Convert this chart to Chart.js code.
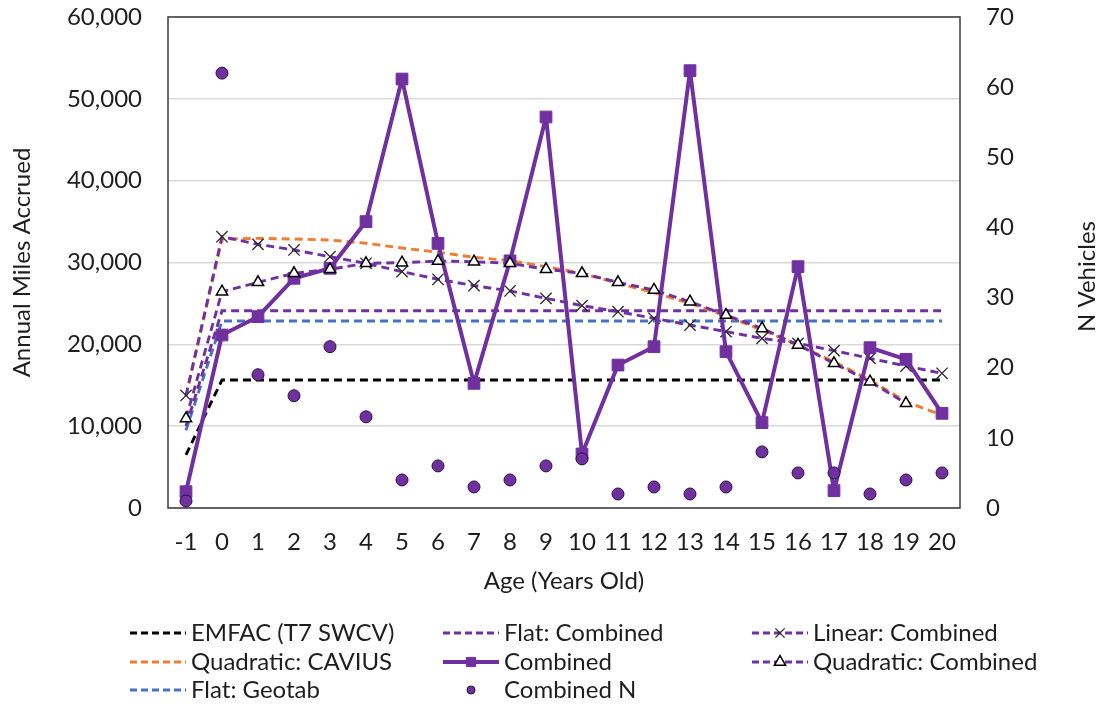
<!DOCTYPE html>
<html>
<head>
<meta charset="utf-8">
<title>Annual Miles Accrued by Age</title>
<script src="https://cdn.jsdelivr.net/npm/chart.js@4.4.1/dist/chart.umd.min.js"></script>
<style>
  html, body { margin: 0; padding: 0; background: #ffffff; }
  #wrap { width: 1101px; height: 707px; position: relative; }
</style>
</head>
<body>
<div id="wrap"><canvas id="chart" width="1101" height="707"></canvas></div>
<script>
// Vehicle age in years (category axis)
const ages = ['-1','0','1','2','3','4','5','6','7','8','9','10','11','12','13','14','15','16','17','18','19','20'];

// Annual miles accrued, left axis
const emfacT7Swcv = [6500, 15650, 15650, 15650, 15650, 15650, 15650, 15650, 15650, 15650, 15650, 15650, 15650, 15650, 15650, 15650, 15650, 15650, 15650, 15650, 15650, 15650];
const flatCombined = [10000, 24100, 24100, 24100, 24100, 24100, 24100, 24100, 24100, 24100, 24100, 24100, 24100, 24100, 24100, 24100, 24100, 24100, 24100, 24100, 24100, 24100];
const linearCombined = [13750, 33150, 32220, 31530, 30710, 29900, 28880, 27950, 27170, 26520, 25620, 24730, 23990, 23180, 22360, 21550, 20730, 20120, 19230, 18290, 17350, 16460];
const quadraticCavius = [13650, 32870, 32950, 32870, 32750, 32350, 31770, 31250, 30640, 30220, 29490, 28680, 27460, 26310, 25010, 23460, 21750, 19920, 17880, 15640, 12990, 11360];
const combined = [1990, 21140, 23380, 28070, 29290, 35000, 52420, 32340, 15230, 30200, 47780, 6600, 17470, 19710, 53440, 19100, 10430, 29490, 2120, 19590, 18170, 11570];
const quadraticCombined = [10950, 26430, 27580, 28680, 29170, 29900, 29980, 30180, 30100, 29900, 29170, 28680, 27580, 26640, 25210, 23580, 21950, 19920, 17680, 15440, 12790, null];
const flatGeotab = [9500, 22850, 22850, 22850, 22850, 22850, 22850, 22850, 22850, 22850, 22850, 22850, 22850, 22850, 22850, 22850, 22850, 22850, 22850, 22850, 22850, 22850];

// Number of vehicles per age, right axis
const combinedN = [1, 62, 19, 16, 23, 13, 4, 6, 3, 4, 6, 7, 2, 3, 2, 3, 8, 5, 5, 2, 4, 5];

// Axis ticks
const milesTicks = [0, 10000, 20000, 30000, 40000, 50000, 60000];
const countTicks = [0, 10, 20, 30, 40, 50, 60, 70];

const PURPLE = '#7030A0';
const ORANGE = '#ED7D31';
const BLUE = '#4472C4';
const BLACK = '#000000';
const TEXT = '#1e1e1e';
const FONT = 'Lato, "Open Sans", sans-serif';
const FONT_SIZE = 24;

function dashedSeries(label, data, color, extra) {
  return Object.assign({
    label: label,
    data: data,
    yAxisID: 'y',
    borderColor: color,
    backgroundColor: color,
    borderWidth: 2.9,
    borderDash: [8, 5],
    borderCapStyle: 'butt',
    pointRadius: 0,
    pointHoverRadius: 0,
    fill: false,
    tension: 0,
    spanGaps: false
  }, extra || {});
}

const datasets = [
  dashedSeries('EMFAC (T7 SWCV)', emfacT7Swcv, BLACK, { order: 7 }),
  dashedSeries('Flat: Combined', flatCombined, PURPLE, { order: 5 }),
  dashedSeries('Linear: Combined', linearCombined, PURPLE, {
    order: 3, pointStyle: 'crossRot', pointRadius: 8, pointHoverRadius: 8,
    pointBorderColor: '#2b2b2b', pointBackgroundColor: '#2b2b2b', pointBorderWidth: 1.3
  }),
  dashedSeries('Quadratic: CAVIUS', quadraticCavius, ORANGE, { order: 4 }),
  {
    label: 'Combined', data: combined, yAxisID: 'y', order: 2,
    borderColor: PURPLE, backgroundColor: PURPLE, borderWidth: 4, borderDash: [],
    borderJoinStyle: 'round',
    pointStyle: 'rect', pointRadius: 8.3, pointHoverRadius: 8.3,
    pointBackgroundColor: PURPLE, pointBorderColor: PURPLE, pointBorderWidth: 1,
    fill: false, tension: 0
  },
  dashedSeries('Quadratic: Combined', quadraticCombined, PURPLE, {
    order: 1, pointStyle: 'triangle', pointRadius: 6.5, pointHoverRadius: 6.5,
    pointBackgroundColor: '#ffffff', pointBorderColor: '#000000', pointBorderWidth: 1.5
  }),
  dashedSeries('Flat: Geotab', flatGeotab, BLUE, { order: 6 }),
  {
    label: 'Combined N', data: combinedN, yAxisID: 'y1', order: 0,
    showLine: false, borderColor: PURPLE, backgroundColor: PURPLE,
    pointStyle: 'circle', pointRadius: 6, pointHoverRadius: 6,
    pointBackgroundColor: PURPLE, pointBorderColor: '#2a0f40', pointBorderWidth: 1
  }
];

// Marker shapes for the legend swatches
function drawMarker(ctx, style, x, y, r, fill, stroke, bw) {
  ctx.save();
  ctx.fillStyle = fill;
  ctx.strokeStyle = stroke;
  ctx.lineWidth = bw;
  ctx.setLineDash([]);
  ctx.beginPath();
  if (style === 'rect') {
    const s = r * Math.SQRT1_2;
    ctx.rect(x - s, y - s, 2 * s, 2 * s);
    ctx.fill(); ctx.stroke();
  } else if (style === 'circle') {
    ctx.arc(x, y, r, 0, Math.PI * 2);
    ctx.fill(); ctx.stroke();
  } else if (style === 'triangle') {
    for (let i = 0; i < 3; i++) {
      const a = i * 2 * Math.PI / 3;
      const px = x + Math.sin(a) * r, py = y - Math.cos(a) * r;
      if (i === 0) ctx.moveTo(px, py); else ctx.lineTo(px, py);
    }
    ctx.closePath();
    ctx.fill(); ctx.stroke();
  } else if (style === 'crossRot') {
    const d = r * Math.SQRT1_2;
    ctx.moveTo(x - d, y - d); ctx.lineTo(x + d, y + d);
    ctx.moveTo(x + d, y - d); ctx.lineTo(x - d, y + d);
    ctx.stroke();
  }
  ctx.restore();
}

// Three-column legend beneath the chart
const gridLegend = {
  id: 'gridLegend',
  afterDraw(chart, args, opts) {
    const ctx = chart.ctx;
    ctx.save();
    ctx.font = FONT_SIZE + 'px ' + FONT;
    ctx.textBaseline = 'middle';
    ctx.textAlign = 'left';
    opts.slots.forEach(slot => {
      const ds = chart.data.datasets[slot.dataset];
      const x0 = opts.columns[slot.col];
      const y = opts.rows[slot.row];
      const x1 = x0 + opts.swatch;
      const xm = (x0 + x1) / 2;
      if (ds.showLine !== false) {
        ctx.save();
        ctx.strokeStyle = ds.borderColor;
        ctx.lineWidth = ds.borderWidth;
        ctx.setLineDash(ds.borderDash && ds.borderDash.length ? [7, 4] : []);
        ctx.beginPath();
        ctx.moveTo(x0, y); ctx.lineTo(x1, y);
        ctx.stroke();
        ctx.restore();
      }
      if (ds.pointRadius > 0) {
        const r = ds.showLine === false ? 4 : Math.min(ds.pointRadius, 6.5);
        drawMarker(ctx, ds.pointStyle, xm, y, r, ds.pointBackgroundColor, ds.pointBorderColor, ds.pointBorderWidth);
      }
      ctx.fillStyle = TEXT;
      ctx.fillText(ds.label, x1 + opts.gap, y);
    });
    ctx.restore();
  }
};

// Frame around the plot area and the right-hand axis title
const plotFrame = {
  id: 'plotFrame',
  beforeDatasetsDraw(chart) {
    const { ctx, chartArea: a } = chart;
    ctx.save();
    ctx.strokeStyle = '#3a3a3a';
    ctx.lineWidth = 1.5;
    ctx.strokeRect(a.left, a.top, a.right - a.left, a.bottom - a.top);
    ctx.restore();
  },
  afterDraw(chart, args, opts) {
    const { ctx, chartArea: a } = chart;
    ctx.save();
    ctx.font = FONT_SIZE + 'px ' + FONT;
    ctx.fillStyle = TEXT;
    ctx.textAlign = 'center';
    ctx.textBaseline = 'middle';
    ctx.translate(opts.titleX, (a.top + a.bottom) / 2 + opts.titleShift);
    ctx.rotate(-Math.PI / 2);
    ctx.fillText(opts.title, 0, 0);
    ctx.restore();
  }
};

const tickFont = { family: FONT, size: FONT_SIZE };

// Keep the value axes from pushing the plot area down for their end labels
function fixVerticalAxis(width) {
  return function (scale) {
    scale.width = width;
    scale.paddingTop = 0;
    scale.paddingBottom = 0;
  };
}

new Chart(document.getElementById('chart'), {
  type: 'line',
  data: { labels: ages, datasets: datasets },
  plugins: [plotFrame, gridLegend],
  options: {
    responsive: false,
    animation: false,
    devicePixelRatio: 1,
    layout: { padding: { top: 17, left: 0, right: 0, bottom: 109 } },
    plugins: {
      legend: { display: false },
      tooltip: { enabled: false },
      gridLegend: {
        columns: [130, 443, 752],
        rows: [633, 662, 690],
        swatch: 56,
        gap: 5,
        slots: [
          { dataset: 0, col: 0, row: 0 },
          { dataset: 1, col: 1, row: 0 },
          { dataset: 2, col: 2, row: 0 },
          { dataset: 3, col: 0, row: 1 },
          { dataset: 4, col: 1, row: 1 },
          { dataset: 5, col: 2, row: 1 },
          { dataset: 6, col: 0, row: 2 },
          { dataset: 7, col: 1, row: 2 }
        ]
      },
      plotFrame: { title: 'N Vehicles', titleX: 1087, titleShift: 14 }
    },
    scales: {
      x: {
        type: 'category',
        offset: true,
        grid: { display: false, drawTicks: false },
        border: { display: false },
        ticks: { font: tickFont, color: TEXT, padding: 20, maxRotation: 0, autoSkip: false },
        title: { display: true, text: 'Age (Years Old)', font: tickFont, color: TEXT, padding: { top: 0, bottom: 2 } },
        afterFit(scale) { scale.height = 90; scale.paddingLeft = 0; scale.paddingRight = 0; }
      },
      y: {
        position: 'left',
        min: milesTicks[0],
        max: milesTicks[milesTicks.length - 1],
        afterBuildTicks(scale) { scale.ticks = milesTicks.map(v => ({ value: v })); },
        grid: { color: '#d9d9d9', lineWidth: 1.5, drawTicks: false },
        border: { display: false },
        ticks: {
          font: tickFont, color: TEXT, padding: 26,
          callback: v => Number(v).toLocaleString('en-US')
        },
        title: { display: true, text: 'Annual Miles Accrued', font: tickFont, color: TEXT, padding: { top: 8, bottom: 0 } },
        afterFit: fixVerticalAxis(168)
      },
      y1: {
        position: 'right',
        min: countTicks[0],
        max: countTicks[countTicks.length - 1],
        afterBuildTicks(scale) { scale.ticks = countTicks.map(v => ({ value: v })); },
        grid: { display: false, drawTicks: false },
        border: { display: false },
        ticks: { font: tickFont, color: TEXT, padding: 26 },
        afterFit: fixVerticalAxis(141)
      }
    }
  }
});
</script>
</body>
</html>
